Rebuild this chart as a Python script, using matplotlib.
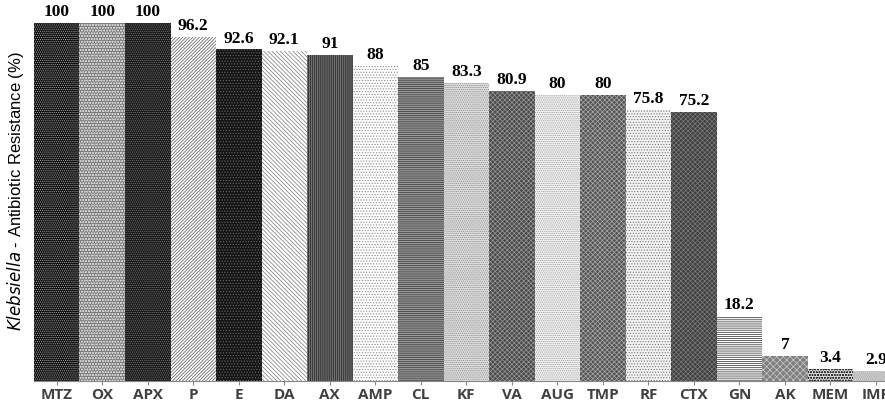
import matplotlib
matplotlib.use("Agg")
import matplotlib.pyplot as plt

drugs = ["MTZ", "OX", "APX", "P", "E", "DA", "AX", "AMP", "CL", "KF",
         "VA", "AUG", "TMP", "RF", "CTX", "GN", "AK", "MEM", "IMP"]
resistance = [100, 100, 100, 96.2, 92.6, 92.1, 91, 88, 85, 83.3,
              80.9, 80, 80, 75.8, 75.2, 18.2, 7, 3.4, 2.9]
value_labels = ["100", "100", "100", "96.2", "92.6", "92.1", "91", "88", "85", "83.3",
                "80.9", "80", "80", "75.8", "75.2", "18.2", "7", "3.4", "2.9"]

# (face colour, hatch, hatch colour) per bar
styles = [
    ("#111111", "........", "#aaaaaa"),
    ("#7a7a7a", "oooooo", "#d0d0d0"),
    ("#1a1a1a", "........", "#777777"),
    ("#ffffff", "//////////", "#555555"),
    ("#151515", "......", "#666666"),
    ("#ffffff", "\\\\\\\\\\\\\\\\", "#777777"),
    ("#3a3a3a", "||||||||", "#888888"),
    ("#ffffff", "......", "#888888"),
    ("#9a9a9a", "--------", "#333333"),
    ("#dddddd", "........", "#888888"),
    ("#4a4a4a", "xxxxxxx", "#999999"),
    ("#f0f0f0", "........", "#999999"),
    ("#555555", "xxxxxxx", "#aaaaaa"),
    ("#f2f2f2", "......", "#777777"),
    ("#404040", "xxxxxxx", "#7a7a7a"),
    ("#ffffff", "--------", "#222222"),
    ("#808080", "xxxxx", "#cccccc"),
    ("#e0e0e0", "oooooo", "#333333"),
    ("#cfcfcf", "........", "#999999"),
]

plt.rcParams['hatch.linewidth'] = 0.5

fig = plt.figure(figsize=(8.85, 4.07), dpi=100)
ax = fig.add_axes([0.0384, 0.064, 0.9616, 0.936])

x = list(range(len(drugs)))
for i, (val, st) in enumerate(zip(resistance, styles)):
    face, hatch, hcol = st
    ax.bar(i, val, width=1.0, color=face, hatch=hatch, edgecolor=hcol, linewidth=0)
    ax.text(i, val + 0.8, value_labels[i], ha="center", va="bottom",
            fontsize=12.5, fontweight="bold", family="Liberation Serif", color="black")

ax.set_xlim(-0.5, 18.2)
ax.set_ylim(0, 106.4)
ax.set_xticks(x)
ax.set_xticklabels(drugs, fontsize=11, fontweight="bold", color="#404040",
                   family="Open Sans")
ax.tick_params(axis="x", length=3, color="#888888", pad=2)
ax.set_yticks([])
for side in ["top", "right", "left"]:
    ax.spines[side].set_visible(False)
ax.spines["bottom"].set_color("#888888")

fig.text(0.018, 0.53, r"$\it{Klebsiella}$ - Antibiotic Resistance (%)", rotation=90,
         ha="center", va="center", fontsize=12, family="Liberation Sans")

plt.savefig("out.png", dpi=100)
